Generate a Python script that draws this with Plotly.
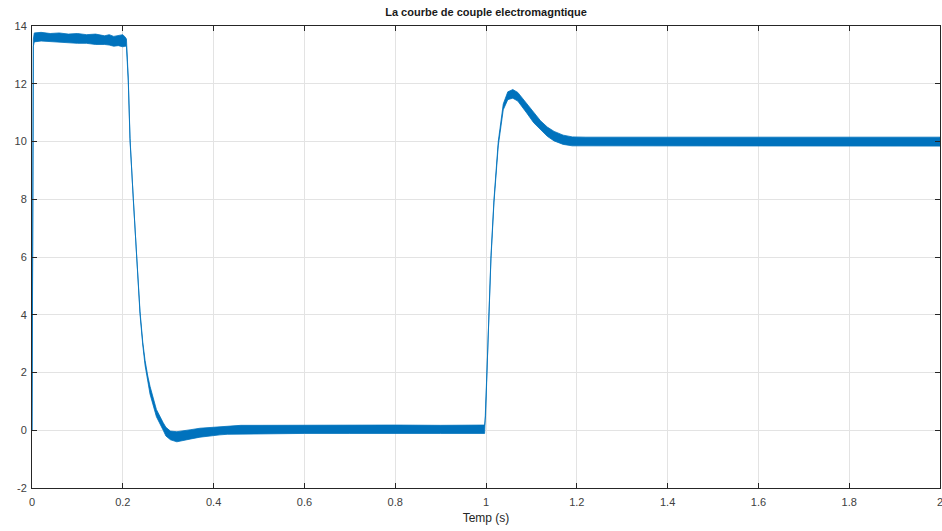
import plotly.graph_objects as go

# Time samples (s) and the upper/lower envelope of the noisy torque band
t = [0.000, 0.0015, 0.003, 0.005, 0.02, 0.04, 0.06, 0.08, 0.10, 0.12, 0.14, 0.16, 0.17,
     0.18, 0.19, 0.20, 0.205, 0.208,
     0.212, 0.216, 0.223, 0.2306, 0.238, 0.244, 0.249, 0.255, 0.26, 0.274, 0.282, 0.289,
     0.295, 0.305, 0.319, 0.33, 0.35, 0.37, 0.40, 0.414, 0.43, 0.46, 0.50, 0.6, 0.7, 0.8,
     0.9, 0.997,
     0.999, 1.0015, 1.0066, 1.011, 1.0176, 1.027, 1.038, 1.048, 1.059, 1.07, 1.08, 1.09,
     1.105, 1.12, 1.135, 1.15, 1.17, 1.19, 1.22, 1.3, 1.4, 1.5, 1.6, 1.7, 1.8, 1.9, 2.0]
upper = [0.0, 6.0, 13.55, 13.76, 13.78, 13.74, 13.76, 13.72, 13.74, 13.70, 13.72, 13.66, 13.70,
         13.64, 13.66, 13.70, 13.62, 13.55,
         12.2, 10.1, 8.02, 6.05, 4.1, 3.05, 2.42, 1.88, 1.52, 0.72, 0.45, 0.26,
         0.1, -0.03, -0.05, -0.03, 0.02, 0.07, 0.11, 0.13, 0.15, 0.17, 0.17, 0.18, 0.17, 0.18,
         0.17, 0.18,
         0.5, 2.0, 4.1, 6.05, 8.0, 10.0, 11.3, 11.72, 11.8, 11.7, 11.5, 11.3,
         11.0, 10.72, 10.5, 10.35, 10.22, 10.16, 10.15, 10.15, 10.15, 10.15, 10.15, 10.15, 10.15, 10.15, 10.15]
lower = [0.0, 6.0, 13.3, 13.45, 13.48, 13.46, 13.44, 13.42, 13.40, 13.40, 13.36, 13.36, 13.34,
         13.30, 13.32, 13.28, 13.30, 13.30,
         12.1, 10.0, 7.95, 6.0, 4.0, 2.95, 2.25, 1.65, 1.25, 0.47, 0.2, 0.0,
         -0.2, -0.33, -0.40, -0.37, -0.3, -0.24, -0.18, -0.16, -0.14, -0.12, -0.12, -0.11, -0.11, -0.12,
         -0.11, -0.11,
         0.4, 1.9, 4.0, 5.95, 7.9, 9.85, 11.1, 11.45, 11.5, 11.4, 11.2, 10.98,
         10.65, 10.4, 10.18, 10.02, 9.9, 9.85, 9.84, 9.84, 9.84, 9.84, 9.84, 9.84, 9.84, 9.84, 9.84]

x_ticks = [0, 0.2, 0.4, 0.6, 0.8, 1, 1.2, 1.4, 1.6, 1.8, 2]
x_tick_labels = ["0", "0.2", "0.4", "0.6", "0.8", "1", "1.2", "1.4", "1.6", "1.8", "2"]
y_ticks = [-2, 0, 2, 4, 6, 8, 10, 12, 14]
y_tick_labels = ["-2", "0", "2", "4", "6", "8", "10", "12", "14"]

blue = "#0072BD"

fig = go.Figure()
fig.add_trace(go.Scatter(
    x=t + t[::-1], y=upper + lower[::-1],
    mode="lines", fill="toself", fillcolor=blue,
    line=dict(color=blue, width=0.8), hoverinfo="skip", showlegend=False,
    cliponaxis=False,
))

axis_common = dict(
    showgrid=True, gridcolor="#e3e3e3", gridwidth=1,
    showline=True, linecolor="#262626", linewidth=1, mirror="ticks",
    ticks="inside", ticklen=5, tickcolor="#262626", tickwidth=1,
    zeroline=False, automargin=False, ticklabeloverflow="allow",
    tickfont=dict(family="Liberation Sans, Arial", size=11, color="#404040"),
)

fig.update_layout(
    width=942, height=531,
    margin=dict(l=32, r=2, t=26, b=43),
    plot_bgcolor="white", paper_bgcolor="white",
    title=dict(text="<b>La courbe de couple electromagntique</b>",
               x=0.516, xanchor="center", y=0.977, yanchor="middle",
               font=dict(family="Liberation Sans, Arial", size=11, color="#1a1a1a")),
    xaxis=dict(range=[0, 2], tickvals=x_ticks, ticktext=x_tick_labels,
               ticklabelstandoff=4,
               title=dict(text="Temp (s)", standoff=6,
                          font=dict(family="Liberation Sans, Arial", size=12, color="#262626")),
               **axis_common),
    yaxis=dict(range=[-2, 14], tickvals=y_ticks, ticktext=y_tick_labels,
               ticklabelstandoff=2, **axis_common),
)

fig.write_html("out.html", config={"displayModeBar": False},
               post_script="document.body.style.margin='0';document.body.style.overflow='hidden';")
